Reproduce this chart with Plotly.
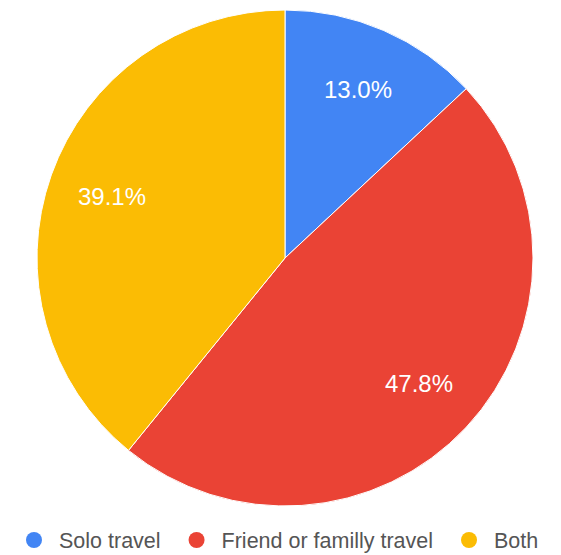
import math
import plotly.graph_objects as go

labels = ["Solo travel", "Friend or familly travel", "Both"]
values = [3, 11, 9]
colors = ["#4285F4", "#EA4335", "#FBBC04"]

W, H = 561, 555
OFF = 8  # page body margin
# pie box in screen pixels
cx, cy, R = 285, 258, 248
x0, x1 = (cx - R - OFF) / W, (cx + R - OFF) / W
y0, y1 = 1 - (cy + R - OFF) / H, 1 - (cy - R - OFF) / H

fig = go.Figure()
fig.add_trace(go.Pie(
    labels=labels, values=values, sort=False, direction="clockwise", rotation=0,
    marker=dict(colors=colors, line=dict(color="white", width=1)),
    textinfo="none", showlegend=False, hoverinfo="label+percent",
    domain=dict(x=[x0, x1], y=[y0, y1]),
))

# percentage labels placed along each slice's bisector
total = sum(values)
cum = 0
for v in values:
    theta = 2 * math.pi * (cum + v / 2) / total
    cum += v
    px = cx + 0.74 * R * math.sin(theta) - OFF
    py = cy - 0.74 * R * math.cos(theta) - OFF
    fig.add_annotation(x=px / W, y=1 - py / H, xref="paper", yref="paper",
                       xanchor="center", yanchor="middle",
                       text=f"{100 * v / total:.1f}%", showarrow=False,
                       font=dict(color="white", size=24, family="Liberation Sans, Arial"))

# legend entries with circular markers
for i, (lab, col) in enumerate(zip(labels, colors)):
    name = lab + ("\u00a0" if i < len(labels) - 1 else "")
    fig.add_trace(go.Scatter(x=[None], y=[None], mode="markers", name=name,
                             marker=dict(color=col, size=19, symbol="circle")))

fig.update_layout(
    width=W, height=H, margin=dict(l=0, r=0, t=0, b=0),
    paper_bgcolor="white", plot_bgcolor="white",
    xaxis=dict(visible=False), yaxis=dict(visible=False),
    legend=dict(orientation="h", x=(9 - OFF) / W, xanchor="left",
                y=1 - (540 - OFF) / H, yanchor="middle",
                font=dict(size=21.5, color="#555", family="Liberation Sans, Arial"),
                itemwidth=40, tracegroupgap=0),
    font=dict(family="Liberation Sans, Arial"),
)
fig.write_html("out.html")
